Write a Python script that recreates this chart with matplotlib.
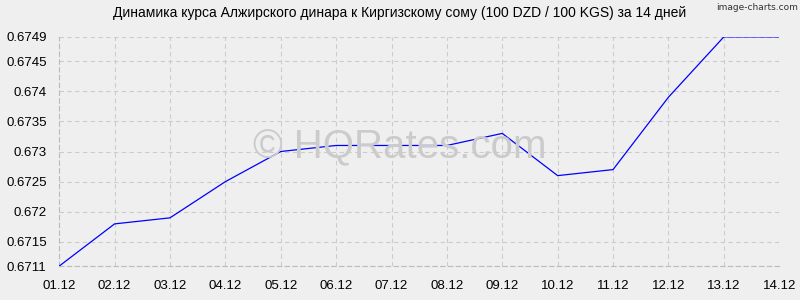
import matplotlib
matplotlib.use('Agg')
import matplotlib.pyplot as plt

# --- Data ---
dates = ['01.12', '02.12', '03.12', '04.12', '05.12', '06.12', '07.12',
         '08.12', '09.12', '10.12', '11.12', '12.12', '13.12', '14.12']
rates = [0.6711, 0.6718, 0.6719, 0.6725, 0.6730, 0.6731, 0.6731,
         0.6731, 0.6733, 0.6726, 0.6727, 0.6739, 0.6749, 0.6749]
y_ticks = [0.6711, 0.6715, 0.672, 0.6725, 0.673, 0.6735, 0.674, 0.6745, 0.6749]
y_labels = ['0.6711', '0.6715', '0.672', '0.6725', '0.673', '0.6735', '0.674', '0.6745', '0.6749']
title = 'Динамика курса Алжирского динара к Киргизскому сому (100 DZD / 100 KGS) за 14 дней'

plt.rcParams['font.family'] = ['Liberation Sans', 'DejaVu Sans']
bg = '#efefef'

fig = plt.figure(figsize=(8, 3), dpi=100, facecolor=bg)
ax = fig.add_axes([0.074, 0.113, 0.9, 0.764], facecolor=bg)

x = list(range(len(dates)))
ax.plot(x, rates, color='#0000ff', linewidth=0.9, zorder=3)

ax.set_xlim(0, len(dates) - 1)
ax.set_ylim(y_ticks[0], y_ticks[-1])
ax.set_xticks(x)
ax.set_xticklabels(dates)
ax.set_yticks(y_ticks)
ax.set_yticklabels(y_labels)
ax.tick_params(axis='both', length=0, labelsize=9.5, colors='#000000')
ax.tick_params(axis='y', pad=9)
ax.tick_params(axis='x', pad=10)

ax.grid(True, color='#cccccc', linestyle=(0, (4, 3)), linewidth=0.8)
for side in ['top', 'right']:
    ax.spines[side].set_visible(False)
for side in ['left', 'bottom']:
    ax.spines[side].set_color('#bbbbbb')
    ax.spines[side].set_linestyle((0, (4, 3)))
    ax.spines[side].set_linewidth(0.8)

fig.text(0.5, 0.955, title, ha='center', va='center', fontsize=10, color='#000000')
fig.text(0.997, 0.99, 'image-charts.com', ha='right', va='top', fontsize=6.5,
         color='#333333', family=['DejaVu Sans', 'Liberation Sans'])
fig.text(0.5, 0.51, '© HQRates.com', ha='center', va='center', fontsize=29,
         color='#cbcbcb', zorder=1)

fig.savefig('out.png', dpi=100, facecolor=bg)
